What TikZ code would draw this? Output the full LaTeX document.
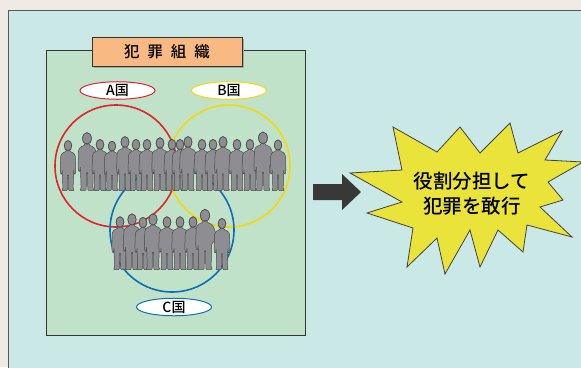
\documentclass[tikz,border=0pt]{standalone}
\usepackage{fontspec}
\setmainfont{Noto Sans CJK JP}
\newfontfamily\jpmed{Noto Sans CJK JP}[UprightFont={* Medium}]
\usepackage{tikz}
\usetikzlibrary{shapes.geometric,positioning,calc}

\definecolor{bgbeige}{HTML}{F1E9E3}
\definecolor{panel}{HTML}{C9E8E6}
\definecolor{orgbox}{HTML}{C0E2C9}
\definecolor{titlefill}{HTML}{F9B982}
\definecolor{cred}{HTML}{E3232B}
\definecolor{cyellow}{HTML}{F5D80A}
\definecolor{cblue}{HTML}{0B6FB8}
\definecolor{shadowgray}{HTML}{8E8E92}
\definecolor{burst}{HTML}{EAE43A}

\begin{document}
\begin{tikzpicture}[x=1pt,y=-1pt]
      \tikzstyle{country}=[ellipse,fill=white,line width=1pt,minimum width=75pt,minimum height=17pt,inner sep=0pt,font=\jpmed\fontsize{14}{14}\selectfont]
      \tikzstyle{ring}=[line width=1.6pt]
      \tikzstyle{figure}=[fill=shadowgray,draw=black!70,line width=0.5pt,rounded corners=0.8pt]
      \tikzset{
        man/.pic={
          \fill[figure] (0,-51.5) ellipse [x radius=4.3,y radius=5.8];
          \fill[figure] (-2,-46.5) -- (-2.2,-45) -- (-6.5,-43) -- (-8.3,-40) -- (-8.8,-24)
            -- (-8.3,-19) -- (-6.8,-19.5) -- (-6.5,-24) -- (-5.8,-3) -- (-7,-0.5) -- (-0.8,-0.5)
            -- (-0.5,-18) -- (0.5,-18) -- (0.8,-0.5) -- (7,-0.5) -- (5.8,-3) -- (6.5,-24)
            -- (6.8,-19.5) -- (8.3,-19) -- (8.8,-24) -- (8.3,-40) -- (6.5,-43) -- (2.2,-45)
            -- (2,-46.5) -- cycle;
          \draw[figure,fill=none] (0,-51.5) ellipse [x radius=4.3,y radius=5.8];
        },
        hip/.pic={
          \fill[figure] (0,-51.5) ellipse [x radius=4.3,y radius=5.8];
          \fill[figure] (-2,-46.5) -- (-2.2,-45) -- (-6.5,-43) -- (-8.3,-40) -- (-8.8,-24)
            -- (-8.3,-19) -- (-6.8,-19.5) -- (-6.5,-24) -- (-5.8,-3) -- (-7,-0.5) -- (-0.8,-0.5)
            -- (-0.5,-18) -- (0.5,-18) -- (0.8,-0.5) -- (7,-0.5) -- (5.8,-3) -- (6.2,-24)
            -- (9.5,-29) -- (10,-35) -- (8.3,-40) -- (6.5,-43) -- (2.2,-45)
            -- (2,-46.5) -- cycle;
          \draw[figure,fill=none] (0,-51.5) ellipse [x radius=4.3,y radius=5.8];
        }
      }

      \useasboundingbox (0,0) rectangle (581,367);
      \fill[bgbeige] (0,0) rectangle (581,367);
      \draw[panel,fill=panel] (8,10) rectangle (600,390);
      \draw[black!65,line width=1pt] (8,380) -- (8,10) -- (600,10);

      % the organisation
      \draw[black!80,fill=orgbox,line width=0.9pt] (46,50) rectangle (305,335);
      \fill[black!35] (94,39) rectangle (244,68);
      \node[draw=black!80,fill=titlefill,line width=0.9pt,minimum width=150pt,minimum height=29pt,
        font=\jpmed\fontsize{15.5}{15.5}\selectfont] (org) at (167,51.5)
        {犯\hspace{8pt}罪\hspace{8pt}組\hspace{8pt}織};

      % three countries
      \draw[ring,cred] (116,166) circle (61);
      \draw[ring,cyellow] (229,166) circle (61);
      \draw[ring,cblue] (172,230) circle (62);

      \node[country,draw=cred] (A) at (117.5,90.5) {A国};
      \node[country,draw=cyellow] (B) at (229,90.5) {B国};
      \node[country,draw=cblue] (C) at (174,307) {C国};

      % members
      \foreach \x/\s/\k in {68/0.88/man,87/1.02/hip,100/0.9/man,112/0.87/man,125/0.95/hip,
          136/0.9/man,147/0.9/man,160/0.93/hip,172/0.9/man,180/0.9/man,188/0.95/hip,
          202/0.9/man,213/0.9/man,223/0.95/hip,237/0.9/man,250/0.9/hip,263/1.03/hip,278/0.89/man}
        \pic[scale=\s] at (\x,191) {\k};
      \foreach \x/\s/\k in {120/0.93/man,132/0.98/hip,143/0.92/man,153/0.98/man,167/0.93/man,
          180/0.93/man,193/0.93/hip,205/1.06/hip,222/0.9/man}
        \pic[scale=\s] at (\x,270) {\k};

      % result
      \fill[black!78] (313,184) -- (342,184) -- (342,174) -- (361,192) -- (342,210)
        -- (342,200) -- (313,200) -- cycle;
      \draw[black!75,fill=burst,line width=0.8pt,line join=miter]
        (350,173) -- (402,170) -- (393,127) -- (437,152) -- (460,127) -- (480,153)
        -- (510,123) -- (518,153) -- (562,131) -- (545,160) -- (583,162) -- (548,182)
        -- (563,200) -- (540,207) -- (572,237) -- (527,225) -- (523,252) -- (498,230)
        -- (480,267) -- (470,230) -- (445,274) -- (437,238) -- (407,267) -- (413,228)
        -- (367,213) -- (402,202) -- cycle;
      \node[align=center,font=\jpmed\fontsize{19.5}{25}\selectfont] (act) at (472,194)
        {役割分担して\\犯罪を敢行};
\end{tikzpicture}
\end{document}
